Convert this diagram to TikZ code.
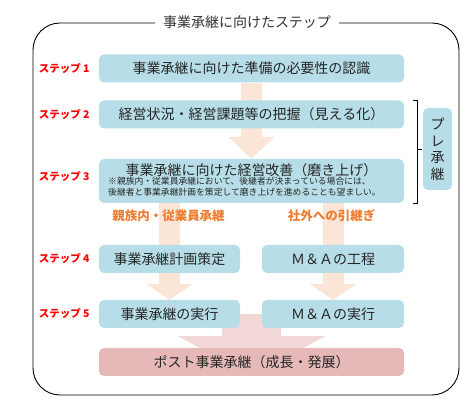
\documentclass[tikz,border=0pt]{standalone}
\usepackage{fontspec}
\setmainfont{Noto Sans CJK JP}
\usepackage{tikz}
\usetikzlibrary{arrows.meta, positioning, backgrounds}
\definecolor{boxblue}{HTML}{B7DEE8}
\definecolor{peach}{HTML}{FBE5D6}
\definecolor{postpink}{HTML}{E6B9B8}
\definecolor{arrowpink}{HTML}{F2D7D7}
\definecolor{orangetxt}{HTML}{ED7D31}

\begin{document}
\begin{tikzpicture}[x=1pt, y=-1pt,
    box/.style = {fill=boxblue, rounded corners=5pt, inner sep=0pt, minimum height=28pt,
                  text=black!85, font=\fontsize{14}{16}\selectfont},
    steplbl/.style = {text=red, font=\bfseries\fontsize{10.5}{12}\selectfont, inner sep=0pt},
    route/.style = {text=orangetxt, font=\bfseries\fontsize{12.5}{14}\selectfont, inner sep=0pt},
    flow/.style = {draw=peach, line width=21pt}]
    \useasboundingbox (0,0) rectangle (472,403);

    % outer frame and title
    \draw[line width=0.9pt, rounded corners=27pt] (33,23) rectangle (459,395);
    \node[fill=white, inner xsep=8pt, text=black!80, font=\fontsize{14}{16}\selectfont] (title) at (247,22) {事業承継に向けたステップ};

    % steps
    \node[box, minimum width=305pt] (b1) at (251.5,68.5) {事業承継に向けた準備の必要性の認識};
    \node[box, minimum width=305pt] (b2) at (251.5,114.5) {経営状況・経営課題等の把握（見える化）};
    \node[box, minimum width=305pt, minimum height=44pt] (b3) at (251.5,181) {};
    \node[inner sep=0pt, text=black!85, font=\fontsize{14}{16}\selectfont] (b3a) at (251.5,170) {事業承継に向けた経営改善（磨き上げ）};
    \node[inner sep=0pt, anchor=north west, align=left, text=black!85, font=\fontsize{8.8}{11}\selectfont] (b3b) at (108,177)
        {※親族内・従業員承継において、後継者が決まっている場合には、\\後継者と事業承継計画を策定して磨き上げを進めることも望ましい。};
    \node[box, minimum width=141pt] (b4l) at (169.5,259) {事業承継計画策定};
    \node[box, minimum width=142pt] (b4r) at (333,259) {Ｍ＆Ａの工程};
    \node[box, minimum width=141pt] (b5l) at (169.5,314) {事業承継の実行};
    \node[box, minimum width=142pt] (b5r) at (333,314) {Ｍ＆Ａの実行};
    \node[box, fill=postpink, minimum width=305pt] (fin) at (251.5,362) {ポスト事業承継（成長・発展）};

    % step labels
    \node[steplbl, left=9pt of b1] (s1) {ステップ 1};
    \node[steplbl, left=9pt of b2] (s2) {ステップ 2};
    \node[steplbl, left=9pt of b3, yshift=4pt] (s3) {ステップ 3};
    \node[steplbl, left=9pt of b4l] (s4) {ステップ 4};
    \node[steplbl, left=9pt of b5l] (s5) {ステップ 5};

    % routes
    \node[route] (r1) at (168.5,216) {親族内・従業員承継};
    \node[route] (r2) at (331.5,216) {社外への引継ぎ};

    % pre-succession
    \node[fill=boxblue, rounded corners=5pt, minimum width=29pt, minimum height=82pt, inner sep=0pt,
          align=center, text=black!85, font=\fontsize{14}{16.5}\selectfont] (pre) at (437.5,149) {プ\\レ\\承\\継};
    \draw[line width=0.6pt] ([xshift=9pt]b2.north east) -- ++(4pt,0) -- ([xshift=13pt]b3.south east) -- ++(-4pt,0);
    \draw[line width=0.6pt] ([xshift=13pt]b2.east |- pre.west) -- ++(5pt,0);

    % arrows
    \begin{scope}[on background layer]
        \draw[flow, -{Triangle[length=22pt, width=46pt, line width=0pt]}] (b1.south) -- (b3.north);
        \draw[flow] (b3.south -| b4l) -- (b4l.north);
        \draw[flow] (b3.south -| b4r) -- (b4r.north);
        \draw[flow, -{Triangle[length=16pt, width=47pt, line width=0pt]}] (b4l.south) -- (b5l.north);
        \draw[flow, -{Triangle[length=16pt, width=47pt, line width=0pt]}] (b4r.south) -- (b5r.north);
        \draw[draw=arrowpink, line width=59pt, -{Triangle[length=40pt, width=147pt, line width=0pt]}] (b5l.east -| fin) -- (fin.south);
    \end{scope}
\end{tikzpicture}
\end{document}
